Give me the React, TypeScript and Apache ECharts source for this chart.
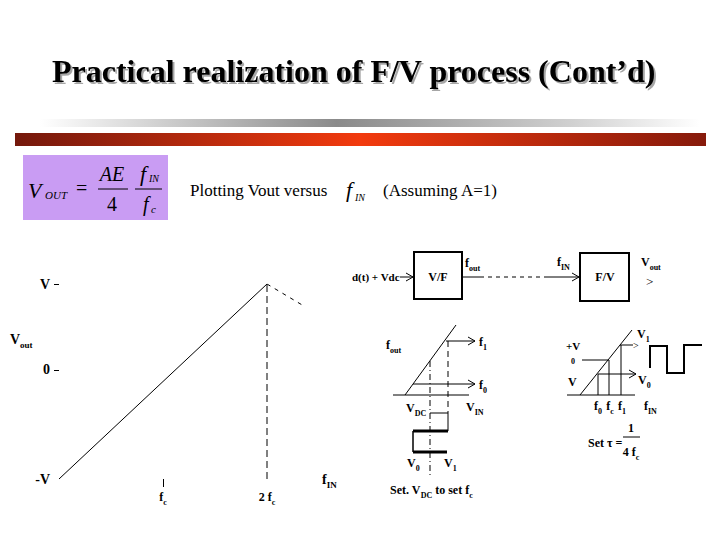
import React, { useEffect, useRef } from "react";
import * as echarts from "echarts";

// ---------- data (main plot: Vout versus fIN, fIN in units of fc, Vout in units of V) ----------
const rampFin = [0, 2];
const rampVout = [-1, 1];
const limitFin = [2, 2];
const limitVout = [-1, 1];
const rolloffFin = [2, 2.33];
const rolloffVout = [1, 0.79];
const xTickValues = [1];
const xLabelValues = [1, 2];
const xLabelTexts = ["{m|f}{s|c}", "{m|2 f}{s|c}"];
const yLabelValues = [-1, 0.12, 1];
const yTickValues = [0.12, 1];
const yLabelTexts = ["-V", "0", "V"];

const TITLE = "Practical realization of F/V process (Cont\u2019d)";
const FONT = '"Liberation Serif", "Times New Roman", serif';

const RICH: any = {
  m: { fontFamily: FONT, fontSize: 12, fontWeight: "bold", color: "#000", lineHeight: 18, verticalAlign: "middle" },
  s: { fontFamily: FONT, fontSize: 8, fontWeight: "bold", color: "#000", lineHeight: 18, verticalAlign: "bottom" },
  M: { fontFamily: FONT, fontSize: 14, fontWeight: "bold", color: "#000", lineHeight: 20, verticalAlign: "middle" },
  S: { fontFamily: FONT, fontSize: 9, fontWeight: "bold", color: "#000", lineHeight: 20, verticalAlign: "bottom" },
};

function T(x: number, y: number, text: string, o: any = {}) {
  return {
    type: "text",
    x,
    y,
    silent: true,
    style: {
      text,
      fill: "#000",
      fontFamily: o.family ?? FONT,
      fontSize: o.size ?? 12,
      fontWeight: o.weight ?? "bold",
      fontStyle: o.style ?? "normal",
      align: o.align ?? "left",
      verticalAlign: "middle",
      lineHeight: 18,
      rich: RICH,
    },
  };
}
function sub(x: number, y: number, main: string, s: string, align = "left") {
  return T(x, y, `{m|${main}}{s|${s}}`, { align });
}
function L(x1: number, y1: number, x2: number, y2: number, o: any = {}) {
  return {
    type: "line",
    silent: true,
    shape: { x1, y1, x2, y2 },
    style: { stroke: "#000", lineWidth: o.w ?? 1, lineDash: o.dash ?? null },
  };
}
function head(x: number, y: number) {
  return {
    type: "polyline",
    silent: true,
    shape: { points: [[x - 7, y - 4], [x, y], [x - 7, y + 4]] },
    style: { stroke: "#000", fill: null, lineWidth: 1 },
  };
}
function box(x: number, y: number, w: number, h: number) {
  return { type: "rect", silent: true, shape: { x, y, width: w, height: h }, style: { stroke: "#000", fill: null, lineWidth: 2 } };
}

function buildGraphics() {
  const g: any[] = [];
  // decorative bars
  g.push({
    type: "rect", silent: true, shape: { x: 40, y: 119, width: 660, height: 8 },
    style: {
      fill: new echarts.graphic.LinearGradient(0, 0, 1, 0, [
        { offset: 0, color: "rgba(255,255,255,1)" },
        { offset: 0.15, color: "#d8d8d8" },
        { offset: 0.45, color: "#8a8a8a" },
        { offset: 0.8, color: "#cfcfcf" },
        { offset: 1, color: "rgba(255,255,255,1)" },
      ]),
    },
  });
  g.push({
    type: "rect", silent: true, shape: { x: 15, y: 133, width: 691, height: 13 },
    style: {
      fill: new echarts.graphic.LinearGradient(0, 0, 1, 0, [
        { offset: 0, color: "#74180c" },
        { offset: 0.5, color: "#f23a0e" },
        { offset: 1, color: "#861a0b" },
      ]),
    },
  });
  // formula box
  g.push({ type: "rect", silent: true, shape: { x: 23, y: 155, width: 145, height: 65 }, style: { fill: "#c99cf3" } });
  const it = { weight: "normal", style: "italic" };
  g.push(T(28, 190, "V", { ...it, size: 22 }));
  g.push(T(45, 195, "OUT", { ...it, size: 11 }));
  g.push(T(76, 188, "=", { weight: "normal", size: 20 }));
  g.push(T(112, 174, "AE", { ...it, size: 20, align: "center" }));
  g.push(L(98, 189, 128, 189));
  g.push(T(112, 204, "4", { weight: "normal", size: 20, align: "center" }));
  g.push(T(140, 173, "f", { ...it, size: 22 }));
  g.push(T(149, 178, "IN", { ...it, size: 10 }));
  g.push(L(135, 189, 162, 189));
  g.push(T(143, 204, "f", { ...it, size: 20 }));
  g.push(T(151, 209, "c", { ...it, size: 11 }));
  // subtitle
  g.push(T(190, 190, "Plotting Vout versus", { weight: "normal", size: 17 }));
  g.push(T(346, 189, "f", { ...it, size: 22 }));
  g.push(T(355, 197, "IN", { ...it, size: 10 }));
  g.push(T(383, 190, "(Assuming A=1)", { weight: "normal", size: 17 }));
  // main plot Vout label
  g.push(T(10, 339, "{M|V}{S|out}"));

  // block diagram
  g.push(T(352, 277, "d(t) + Vdc", { size: 11 }));
  g.push(L(400, 277, 413, 277));
  g.push(head(413, 277));
  g.push(box(414, 252, 48, 47));
  g.push(T(438, 277, "V/F", { align: "center" }));
  g.push(sub(465, 263, "f", "out"));
  g.push(L(462, 277, 480, 277));
  g.push(L(480, 277, 545, 277, { dash: [4, 4] }));
  g.push(L(545, 277, 579, 277));
  g.push(head(579, 277));
  g.push(sub(557, 262, "f", "IN"));
  g.push(box(580, 253, 49, 48));
  g.push(T(605, 277, "F/V", { align: "center" }));
  g.push(sub(641, 262, "V", "out"));
  g.push(T(646, 281, ">", { weight: "normal", size: 13 }));

  // V/F characteristic
  g.push(L(393, 395, 469, 395));
  g.push(L(405, 395, 456, 325));
  g.push(sub(386, 345, "f", "out"));
  g.push(L(446, 341, 475, 341));
  g.push(head(475, 341));
  g.push(sub(479, 342, "f", "1"));
  g.push(L(413, 384, 475, 384));
  g.push(head(475, 384));
  g.push(sub(479, 385, "f", "0"));
  g.push(L(430, 361, 430, 477, { dash: [6, 3, 1, 3] }));
  g.push(L(448, 341, 448, 413, { dash: [6, 4] }));
  g.push(L(448, 413, 448, 431));
  g.push(L(430, 413, 448, 413));
  g.push(L(413, 431, 448, 431, { w: 3 }));
  g.push(L(413, 431, 413, 452, { w: 1.5 }));
  g.push(L(413, 452, 447, 452, { w: 3 }));
  g.push(sub(406, 408, "V", "DC"));
  g.push(sub(466, 407, "V", "IN"));
  g.push(sub(407, 463, "V", "0"));
  g.push(sub(444, 463, "V", "1"));
  g.push(T(390, 490, "{m|Set. V}{s|DC}{m| to set f}{s|c}", { size: 11 }));

  // F/V characteristic
  g.push(L(567, 395, 635, 395));
  g.push(L(580, 395, 632, 330));
  g.push(sub(637, 334, "V", "1"));
  g.push(L(620, 345, 633, 345));
  g.push(T(633, 345, ">", { weight: "normal", size: 10 }));
  g.push(T(566, 346, "+V", { size: 11 }));
  g.push(T(571, 361, "0", { size: 8 }));
  g.push(L(582, 360, 609, 360));
  g.push(T(568, 382, "V", { size: 12 }));
  g.push(L(598, 374, 636, 374));
  g.push(head(636, 374));
  g.push(sub(638, 380, "V", "0"));
  g.push(L(598, 374, 598, 395));
  g.push(L(609, 360, 609, 395));
  g.push(L(621, 345, 621, 395));
  g.push(sub(598, 406, "f", "0", "center"));
  g.push(sub(610, 406, "f", "c", "center"));
  g.push(sub(622, 406, "f", "1", "center"));
  g.push(sub(644, 406, "f", "IN"));
  g.push({
    type: "polyline", silent: true,
    shape: { points: [[650, 368], [650, 346], [667, 346], [667, 373], [684, 373], [684, 345], [702, 345]] },
    style: { stroke: "#000", fill: null, lineWidth: 2 },
  });
  g.push(T(588, 443, "Set \u03c4 =", { size: 12 }));
  g.push(T(631, 428, "1", { size: 12, align: "center" }));
  g.push(L(623, 437, 640, 437));
  g.push(T(631, 452, "{m|4 f}{s|c}", { align: "center" }));
  return g;
}

export default function App() {
  const ref = useRef<HTMLDivElement>(null);
  useEffect(() => {
    if (!ref.current) return;
    const chart = echarts.init(ref.current, null, { renderer: "svg" });
    const pairs = (xs: number[], ys: number[]) => xs.map((x, i) => [x, ys[i]]);
    const option: any = {
      animation: false,
      backgroundColor: "#fff",
      title: {
        text: TITLE,
        left: 47,
        top: 50,
        textStyle: {
          fontFamily: FONT,
          fontSize: 32,
          fontWeight: "bold",
          color: "#000",
          textShadowColor: "rgba(0,0,0,0.35)",
          textShadowOffsetX: 2,
          textShadowOffsetY: 2,
          textShadowBlur: 1,
        },
      },
      grid: { left: 59, right: 401, top: 284, bottom: 61, containLabel: false },
      xAxis: {
        type: "value",
        min: 0,
        max: 2.5,
        axisLine: { show: false, onZero: false },
        splitLine: { show: false },
        axisTick: { show: true, customValues: xTickValues, length: 8, lineStyle: { color: "#000" } },
        axisLabel: {
          customValues: xLabelValues,
          margin: 9,
          formatter: (v: number) => {
            const i = xLabelValues.findIndex((t) => Math.abs(t - v) < 1e-6);
            return i >= 0 ? xLabelTexts[i] : "";
          },
          rich: RICH,
        },
        name: "{M|f}{S|IN}",
        nameLocation: "end",
        nameGap: 3,
        nameTextStyle: { rich: RICH },
      },
      yAxis: {
        type: "value",
        min: -1,
        max: 1,
        axisLine: { show: false, onZero: false },
        splitLine: { show: false },
        axisTick: { show: true, customValues: yTickValues, length: 5, lineStyle: { color: "#000" } },
        axisLabel: {
          customValues: yLabelValues,
          margin: 9,
          fontFamily: FONT,
          fontSize: 14,
          fontWeight: "bold",
          color: "#000",
          formatter: (v: number) => {
            const i = yLabelValues.findIndex((t) => Math.abs(t - v) < 1e-6);
            return i >= 0 ? yLabelTexts[i] : "";
          },
        },
      },
      series: [
        {
          type: "line", data: pairs(rampFin, rampVout), symbol: "none",
          lineStyle: { color: "#000", width: 1 },
        },
        {
          type: "line", data: pairs(limitFin, limitVout), symbol: "none",
          lineStyle: { color: "#000", width: 1, type: [7, 4] },
        },
        {
          type: "line", data: pairs(rolloffFin, rolloffVout), symbol: "none",
          lineStyle: { color: "#000", width: 1, type: [4, 5] },
        },
      ],
      graphic: { elements: buildGraphics() },
    };
    chart.setOption(option);
    return () => chart.dispose();
  }, []);
  return (
    <div
      ref={ref}
      style={{ position: "fixed", left: 0, top: 0, width: 720, height: 540, background: "#fff" }}
    />
  );
}
